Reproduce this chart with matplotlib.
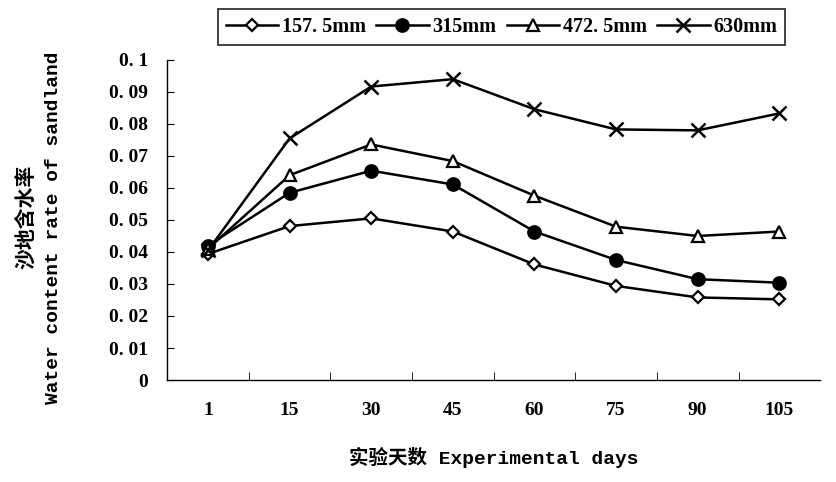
import matplotlib
matplotlib.use("Agg")
import matplotlib.pyplot as plt
import numpy as np

# 数据
days = ["1", "15", "30", "45", "60", "75", "90", "105"]
s157 = [0.0394, 0.0481, 0.0505, 0.0464, 0.0361, 0.0294, 0.0258, 0.0252]
s315 = [0.0420, 0.0585, 0.0654, 0.0611, 0.0464, 0.0375, 0.0315, 0.0304]
s472 = [0.0410, 0.0640, 0.0736, 0.0684, 0.0576, 0.0479, 0.0450, 0.0464]
s630 = [0.0405, 0.0755, 0.0917, 0.0940, 0.0846, 0.0783, 0.0780, 0.0833]
series_names = ["157. 5mm", "315mm", "472. 5mm", "630mm"]
ytick_vals = [0, 0.01, 0.02, 0.03, 0.04, 0.05, 0.06, 0.07, 0.08, 0.09, 0.1]
ytick_txt = ["0", "0. 01", "0. 02", "0. 03", "0. 04", "0. 05", "0. 06",
             "0. 07", "0. 08", "0. 09", "0. 1"]

mono = ["Liberation Mono", "Noto Sans CJK SC", "DejaVu Sans"]
serif = ["Liberation Serif", "DejaVu Serif"]

fig = plt.figure(figsize=(8.36, 4.82), dpi=100, facecolor="white")
ax = fig.add_axes([0.2, 0.2116, 0.781, 0.664])

x = np.arange(len(days))
stil = [
    (s157, dict(marker="D", markersize=6, markerfacecolor="white")),
    (s315, dict(marker="o", markersize=9, markerfacecolor="black")),
    (s472, dict(marker="^", markersize=8, markerfacecolor="white")),
    (s630, dict(marker="x", markersize=10, markeredgewidth=1.8)),
]
linije = []
for (vals, kw), ime in zip(stil, series_names):
    ln, = ax.plot(x, vals, color="black", linewidth=1.8, markeredgecolor="black",
                  markeredgewidth=kw.pop("markeredgewidth", 1.6), label=ime, **kw)
    linije.append(ln)

ax.set_xlim(-0.5, len(days) - 0.5)
ax.set_ylim(0, 0.1)
for s in ["top", "right"]:
    ax.spines[s].set_visible(False)
ax.spines["left"].set_linewidth(1.0)
ax.spines["bottom"].set_linewidth(1.0)

ax.set_yticks(ytick_vals)
ax.set_yticklabels(ytick_txt, family=serif, fontsize=14, fontweight="bold")
ax.tick_params(axis="y", direction="in", length=5, pad=14)

ax.set_xticks(x)
ax.set_xticklabels(days, family=serif, fontsize=14, fontweight="bold")
ax.tick_params(axis="x", length=0, pad=16)
ax.set_xticks(np.arange(0.5, len(days) - 0.5, 1), minor=True)
ax.tick_params(axis="x", which="minor", direction="in", length=6)

ax.set_xlabel("实验天数 Experimental days", family=mono, fontsize=14,
              fontweight="bold", labelpad=20)
fig.text(0.031, 0.55, "沙地含水率", rotation=90, family=mono, fontsize=15,
         fontweight="bold", ha="center", va="center")
fig.text(0.064, 0.527, "Water content rate of sandland", rotation=90, family=mono,
         fontsize=14, fontweight="bold", ha="center", va="center")

leg = fig.legend(handles=linije, loc="center", bbox_to_anchor=(0.6, 0.944), ncol=4,
                 frameon=True, fancybox=False, edgecolor="black", handlelength=2.6,
                 handletextpad=0.2, columnspacing=0.5, borderpad=0.4,
                 prop=dict(family=serif, size=14.5, weight="bold"))
leg.get_frame().set_linewidth(1.3)

fig.savefig("out.png", dpi=100, facecolor="white")
